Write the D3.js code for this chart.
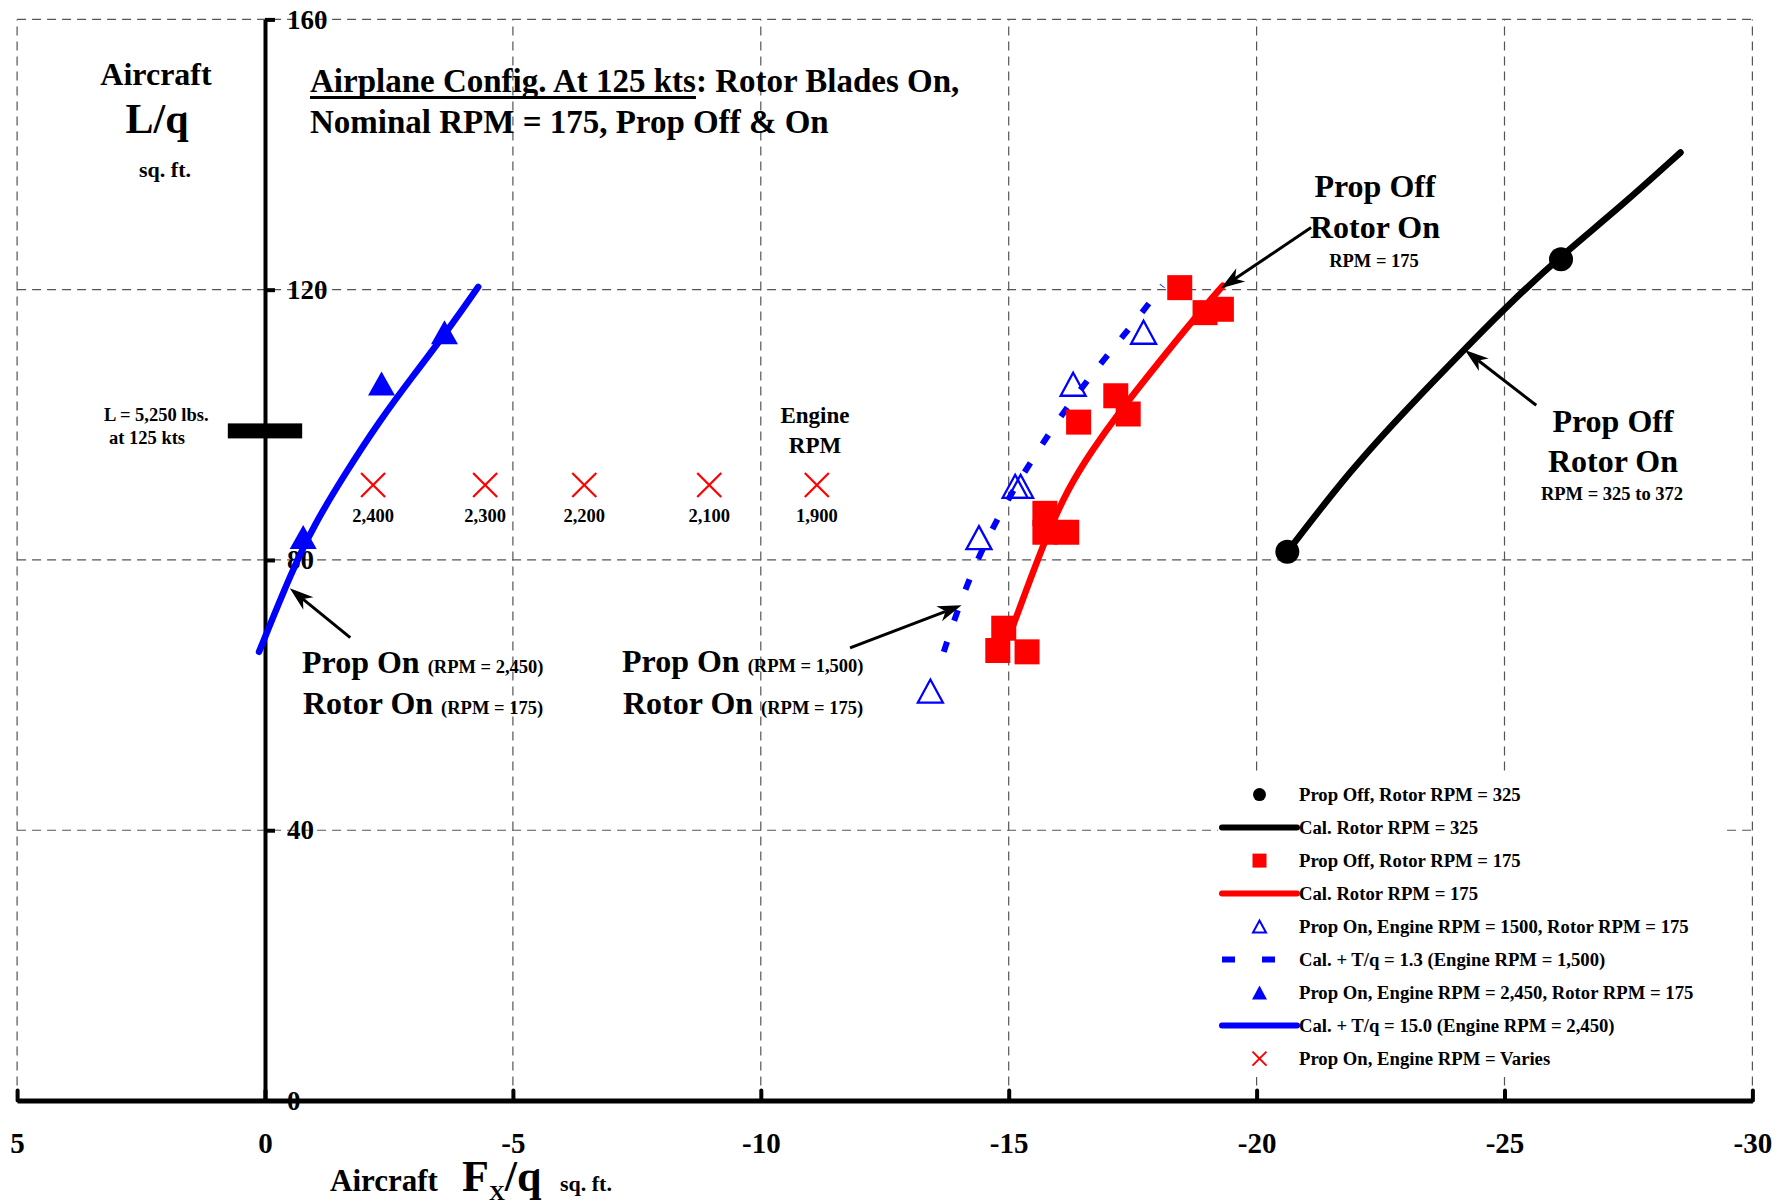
<!DOCTYPE html>
<html><head><meta charset="utf-8">
<script src="https://cdn.jsdelivr.net/npm/d3@7"></script>
<style>body{margin:0;background:#fff}svg text{font-family:'Liberation Serif','Times New Roman',serif;font-weight:bold;fill:#000}</style>
</head><body><svg id="c" width="1790" height="1204"></svg>
<script>
// ---------- data ----------
const xTicks = [5, 0, -5, -10, -15, -20, -25, -30];
const yTicks = [0, 40, 80, 120, 160];
const xGrid = [5, -5, -10, -15, -20, -25, -30];
const yGrid = [40, 80, 120, 160];

// Prop Off, rotor RPM = 325 (points) and calculated curve
const propOff325 = [[-20.62, 81.2], [-26.14, 124.5]];
const cal325 = [[-20.62, 81.2], [-21.89, 93.3], [-23.1, 102.9], [-24.17, 111.0], [-25.08, 117.8], [-26.14, 125.0], [-27.36, 132.4], [-28.55, 140.3]];
// Prop Off, rotor RPM = 175
const propOff175 = [[-18.45, 120.3], [-18.96, 116.6], [-19.29, 117.1], [-17.16, 104.3], [-17.41, 101.6], [-16.41, 100.4],
  [-15.73, 86.9], [-15.73, 84.1], [-16.17, 84.1], [-14.90, 69.9], [-14.78, 66.6], [-15.37, 66.4]];
const cal175 = [[-15.09, 70.3], [-15.76, 83.6], [-16.2, 90.6], [-16.66, 96.0], [-17.2, 101.6], [-18.0, 109.0], [-18.73, 115.6], [-19.32, 120.6]];
// Prop On, engine RPM = 1500
const propOn1500 = [[-13.42, 60.6], [-14.40, 83.3], [-15.13, 90.9], [-15.24, 90.9], [-16.30, 106.0], [-17.72, 113.7]];
const cal1500 = [[-13.69, 66.4], [-14.0, 73.3], [-14.41, 80.9], [-14.9, 87.8], [-15.2, 91.6], [-15.55, 95.7], [-15.95, 100.2],
  [-16.39, 104.7], [-16.84, 108.9], [-17.27, 112.8], [-17.7, 116.7], [-18.1, 120.6]];
// Prop On, engine RPM = 2450
const propOn2450 = [[-0.77, 83.4], [-2.35, 106.1], [-3.62, 113.7]];
const cal2450 = [[0.12, 66.4], [-0.55, 78.5], [-1.0, 85.3], [-1.6, 92.6], [-2.3, 100.5], [-3.0, 107.4], [-3.65, 113.6], [-4.3, 120.4]];
// Prop On, engine RPM varies
const variesX = [-2.18, -4.44, -6.44, -8.96, -11.13];
const variesY = [91.1, 91.1, 91.1, 91.1, 91.1];
const variesLabels = ["2,400", "2,300", "2,200", "2,100", "1,900"];
// Lift reference L = 5,250 lbs at 125 kts
const liftRef = [99.1];

const legendLabels = ["Prop Off, Rotor RPM = 325", "Cal. Rotor RPM = 325", "Prop Off, Rotor RPM = 175", "Cal. Rotor RPM = 175",
  "Prop On, Engine RPM = 1500, Rotor RPM = 175", "Cal. + T/q = 1.3 (Engine RPM = 1,500)",
  "Prop On, Engine RPM = 2,450, Rotor RPM = 175", "Cal. + T/q = 15.0 (Engine RPM = 2,450)", "Prop On, Engine RPM = Varies"];
const legendKinds = ["dot", "lineK", "square", "lineR", "triOpen", "lineDash", "triFill", "lineB", "cross"];

// ---------- layout ----------
const svg = d3.select("#c");
const x = d3.scaleLinear().domain([5, -30]).range([17.1, 1752.4]);
const y = d3.scaleLinear().domain([0, 160]).range([1100.5, 19.4]);
const BLUE = "#0000ff", RED = "#ff0000";

// grid
const g = svg.append("g");
g.selectAll(".vg").data(xGrid).join("line")
  .attr("x1", d => x(d)).attr("x2", d => x(d)).attr("y1", y(0)).attr("y2", y(160))
  .attr("stroke", "#555").attr("stroke-width", 1.2).attr("stroke-dasharray", "9,6");
g.selectAll(".hg").data(yGrid).join("line")
  .attr("x1", x(5)).attr("x2", x(-30)).attr("y1", d => y(d)).attr("y2", d => y(d))
  .attr("stroke", "#555").attr("stroke-width", 1.2).attr("stroke-dasharray", "9,6");

// axes
const xAxis = d3.axisBottom(x).tickValues(xTicks).tickFormat(d => String(d)).tickSizeInner(-10).tickSizeOuter(0).tickPadding(32);
const gx = svg.append("g").attr("transform", `translate(0,${y(0)})`).call(xAxis);
gx.select(".domain").attr("stroke", "#000").attr("stroke-width", 5);
gx.selectAll(".tick line").attr("stroke", "#000").attr("stroke-width", 4).attr("stroke-linecap", "round");
gx.selectAll(".tick text").style("font-size", "29px").attr("fill", "#000");

const yAxis = d3.axisRight(y).tickValues(yTicks).tickFormat(d => String(d)).tickSizeInner(10).tickSizeOuter(0).tickPadding(12);
const gy = svg.append("g").attr("transform", `translate(${x(0)},0)`).call(yAxis);
gy.select(".domain").attr("stroke", "#000").attr("stroke-width", 4);
gy.selectAll(".tick line").attr("stroke", "#000").attr("stroke-width", 4);
gy.selectAll(".tick text").style("font-size", "27px").attr("fill", "#000");

// lift reference bar
svg.selectAll(".lift").data(liftRef).join("rect")
  .attr("x", x(0.75)).attr("width", x(-0.75) - x(0.75)).attr("y", d => y(d) - 7.5).attr("height", 15).attr("fill", "#000");

// curves
const line = d3.line().x(d => x(d[0])).y(d => y(d[1])).curve(d3.curveBasis);
svg.append("path").attr("d", line(cal325)).attr("fill", "none").attr("stroke", "#000").attr("stroke-width", 6.5).attr("stroke-linecap", "round");
svg.append("path").attr("d", line(cal175)).attr("fill", "none").attr("stroke", RED).attr("stroke-width", 6.5).attr("stroke-linecap", "round");
svg.append("path").attr("d", line(cal2450)).attr("fill", "none").attr("stroke", BLUE).attr("stroke-width", 6.5).attr("stroke-linecap", "round");
svg.append("path").attr("d", line(cal1500)).attr("fill", "none").attr("stroke", BLUE).attr("stroke-width", 6).attr("stroke-dasharray", "11,22");

// markers
function tri(cx, cy, w, h) { return `M${cx},${cy - h / 2}L${cx + w / 2},${cy + h / 2}L${cx - w / 2},${cy + h / 2}Z`; }
svg.selectAll(".sq").data(propOff175).join("rect")
  .attr("x", d => x(d[0]) - 12.5).attr("y", d => y(d[1]) - 12.5).attr("width", 25).attr("height", 25).attr("fill", RED);
svg.selectAll(".dot").data(propOff325).join("circle")
  .attr("cx", d => x(d[0])).attr("cy", d => y(d[1])).attr("r", 12).attr("fill", "#000");
svg.selectAll(".to").data(propOn1500).join("path")
  .attr("d", d => tri(x(d[0]), y(d[1]), 25, 23)).attr("fill", "none").attr("stroke", BLUE).attr("stroke-width", 2.3);
svg.selectAll(".tf").data(propOn2450).join("path")
  .attr("d", d => tri(x(d[0]), y(d[1]), 27, 24)).attr("fill", BLUE);
const cross = (cx, cy, s) => `M${cx - s},${cy - s}L${cx + s},${cy + s}M${cx - s},${cy + s}L${cx + s},${cy - s}`;
svg.selectAll(".cx").data(variesX).join("path")
  .attr("d", (d, i) => cross(x(d), y(variesY[i]), 12)).attr("stroke", RED).attr("stroke-width", 2.2).attr("fill", "none");
svg.selectAll(".cxl").data(variesX).join("text")
  .attr("x", d => x(d)).attr("y", (d, i) => y(variesY[i]) + 37).attr("text-anchor", "middle").style("font-size", "18.5px")
  .text((d, i) => variesLabels[i]);

// arrows (start -> tip, data units)
const arrows = [[[-1.72, 68.5], [-0.50, 75.8]], [[-11.80, 67.0], [-14.05, 73.3]], [[-21.1, 129.2], [-19.28, 120.2]], [[-25.64, 102.9], [-24.20, 111.06]]];
arrows.forEach(([s, t]) => {
  const sx = x(s[0]), sy = y(s[1]), tx = x(t[0]), ty = y(t[1]);
  const L = Math.hypot(tx - sx, ty - sy), ux = (tx - sx) / L, uy = (ty - sy) / L, nx = -uy, ny = ux;
  const H = 24, W = 8, N = 7;
  svg.append("line").attr("x1", sx).attr("y1", sy).attr("x2", tx - ux * (H - N)).attr("y2", ty - uy * (H - N)).attr("stroke", "#000").attr("stroke-width", 3);
  svg.append("path").attr("d", `M${tx},${ty}L${tx - ux * H + nx * W},${ty - uy * H + ny * W}L${tx - ux * (H - N)},${ty - uy * (H - N)}L${tx - ux * H - nx * W},${ty - uy * H - ny * W}Z`).attr("fill", "#000");
});

// text helpers
function txt(xp, yp, s, size, anchor) {
  return svg.append("text").attr("x", xp).attr("y", yp).attr("text-anchor", anchor || "start").style("font-size", size + "px").text(s);
}
// y-axis label
txt(156, 85, "Aircraft", 32, "middle");
txt(157, 133, "L/q", 42, "middle");
txt(165, 177, "sq. ft.", 22, "middle");
// lift annotation
txt(104, 421, "L = 5,250 lbs.", 18.5);
txt(109, 444, "at 125 kts", 18.5);
// title
const t1 = svg.append("text").attr("x", 310).attr("y", 92).style("font-size", "33px");
const tu = t1.append("tspan").text("Airplane Config. At 125 kts");
t1.append("tspan").text(": Rotor Blades On,");
const ulen = tu.node().getComputedTextLength();
svg.append("line").attr("x1", 310).attr("x2", 310 + ulen).attr("y1", 97.5).attr("y2", 97.5).attr("stroke", "#000").attr("stroke-width", 3);
txt(310, 133, "Nominal RPM = 175, Prop Off & On", 33);
// engine rpm
txt(815, 423, "Engine", 23, "middle");
txt(815, 453, "RPM", 23, "middle");
// annotations
txt(1375, 197, "Prop Off", 32, "middle");
txt(1375, 238, "Rotor On", 32, "middle");
txt(1374, 267, "RPM = 175", 18.5, "middle");
txt(1613, 432, "Prop Off", 32, "middle");
txt(1613, 472, "Rotor On", 32, "middle");
txt(1612, 500, "RPM = 325 to 372", 18.5, "middle");
function twoPart(xp, yp, big, small) {
  const t = svg.append("text").attr("x", xp).attr("y", yp).style("font-size", "32px");
  t.append("tspan").text(big + " ");
  t.append("tspan").style("font-size", "18.5px").text(small);
}
twoPart(302, 673, "Prop On", "(RPM = 2,450)");
twoPart(303, 714, "Rotor On", "(RPM = 175)");
twoPart(622, 672, "Prop On", "(RPM = 1,500)");
twoPart(623, 714, "Rotor On", "(RPM = 175)");
// x-axis label
const xl = svg.append("text").attr("x", 330).attr("y", 1191).style("font-size", "31px");
xl.append("tspan").text("Aircraft ");
xl.append("tspan").attr("x", 462).style("font-size", "44px").text("F");
xl.append("tspan").style("font-size", "22px").attr("dy", 9).text("X");
xl.append("tspan").style("font-size", "44px").attr("dy", -9).text("/q");
xl.append("tspan").attr("x", 560).style("font-size", "22px").text("sq. ft.");

// legend (white box hides the grid behind it)
const lg = svg.append("g");
lg.append("rect").attr("x", 1218).attr("y", 773).attr("width", 504).attr("height", 304).attr("fill", "#fff");
const lx0 = 1222, lx1 = 1297, lmx = 1259.5, ltx = 1299;
legendLabels.forEach((lab, i) => {
  const cy = 794.6 + i * 33.0;
  const k = legendKinds[i];
  if (k === "dot") lg.append("circle").attr("cx", lmx).attr("cy", cy).attr("r", 6.5).attr("fill", "#000");
  if (k === "square") lg.append("rect").attr("x", lmx - 7).attr("y", cy - 7).attr("width", 14).attr("height", 14).attr("fill", RED);
  if (k === "triOpen") lg.append("path").attr("d", tri(lmx, cy, 13, 12)).attr("fill", "none").attr("stroke", BLUE).attr("stroke-width", 2);
  if (k === "triFill") lg.append("path").attr("d", tri(lmx, cy, 15, 14)).attr("fill", BLUE);
  if (k === "cross") lg.append("path").attr("d", cross(lmx, cy, 7)).attr("stroke", RED).attr("stroke-width", 2).attr("fill", "none");
  if (k.startsWith("line")) {
    const col = k === "lineK" ? "#000" : k === "lineR" ? RED : BLUE;
    const l = lg.append("line").attr("x1", lx0).attr("x2", lx1).attr("y1", cy).attr("y2", cy).attr("stroke", col).attr("stroke-width", 6);
    if (k === "lineDash") l.attr("stroke-dasharray", "13,27");
    else l.attr("stroke-linecap", "round");
  }
  lg.append("text").attr("x", ltx).attr("y", cy + 6.5).style("font-size", "18.7px").text(lab);
});
</script></body></html>
